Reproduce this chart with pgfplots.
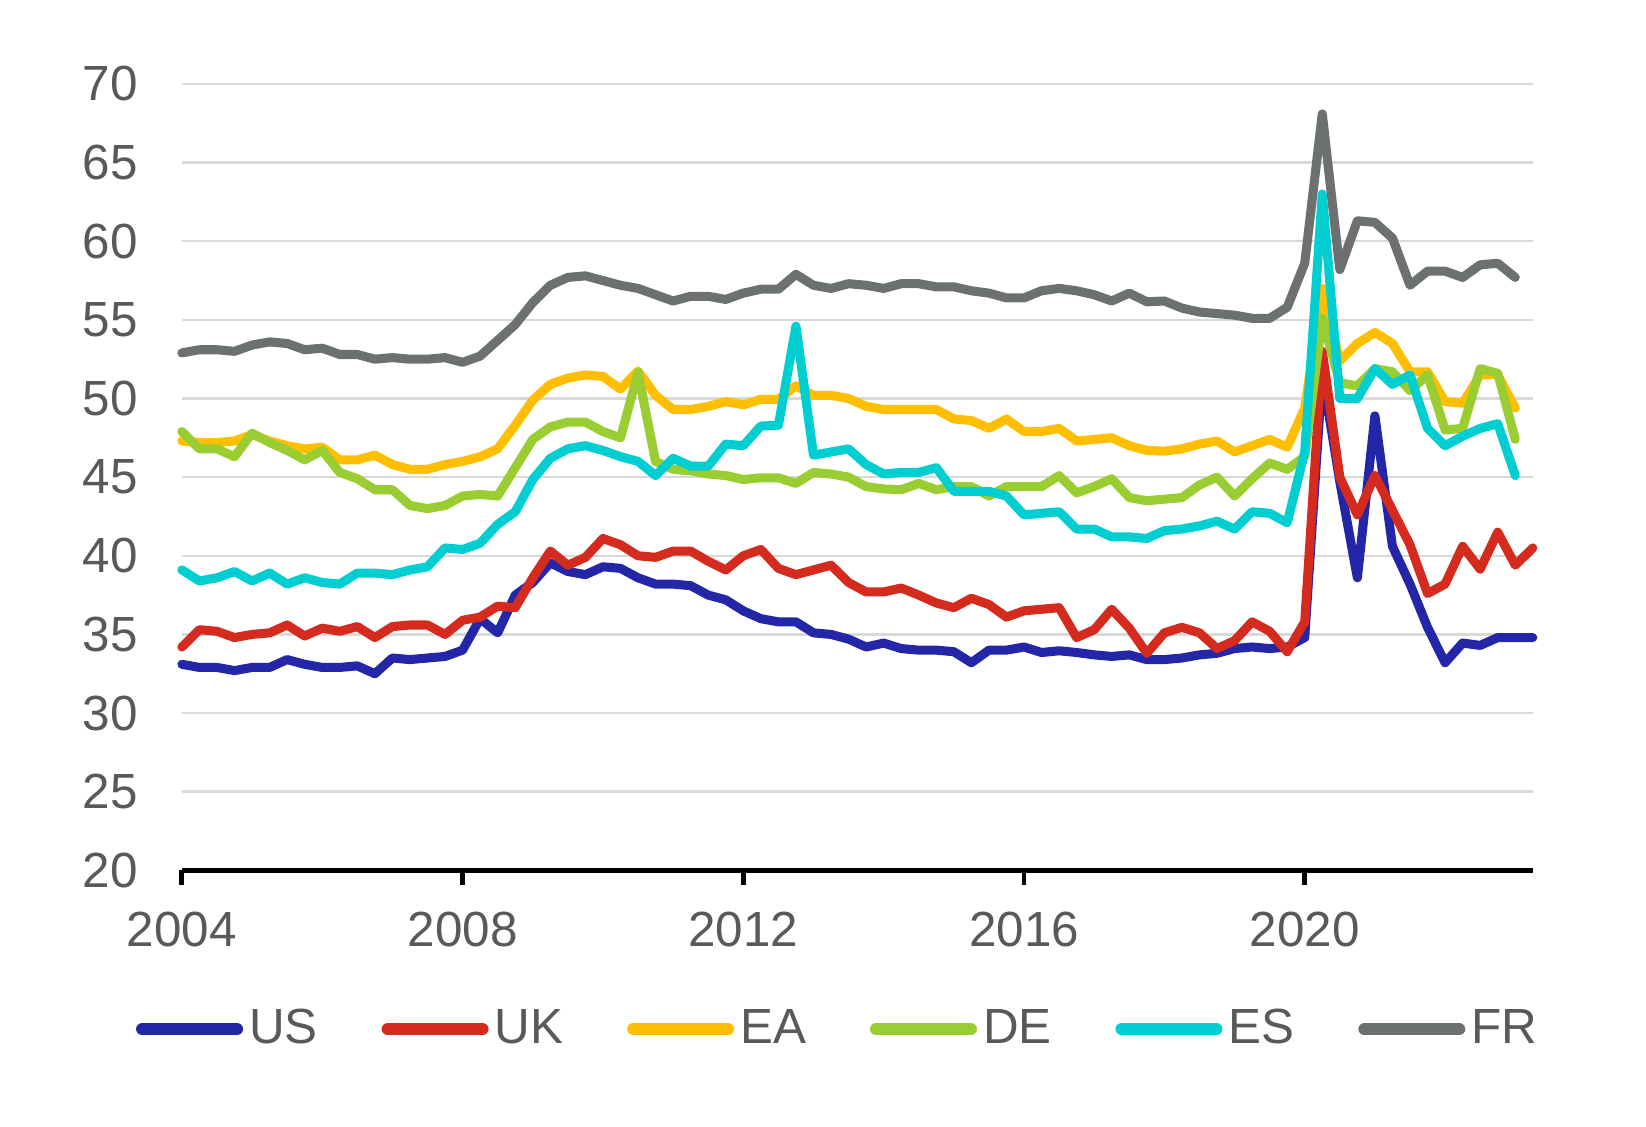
\documentclass[border=0pt]{standalone}
\usepackage{fontspec}
\setmainfont{Liberation Sans}
\usepackage{pgfplots}
\pgfplotsset{compat=1.18}
\usepackage{pgfplotstable}
\definecolor{cUS}{RGB}{36,38,168}
\definecolor{cUK}{RGB}{213,43,30}
\definecolor{cEA}{RGB}{255,190,0}
\definecolor{cDE}{RGB}{154,205,50}
\definecolor{cES}{RGB}{0,206,209}
\definecolor{cFR}{RGB}{108,112,112}
\definecolor{labelgray}{RGB}{89,89,89}
\definecolor{gridgray}{RGB}{217,217,217}
\pgfplotstableread{
k US UK EA DE ES FR
0 33.1 34.2 47.3 47.9 39.1 52.9
1 32.9 35.3 47.2 46.8 38.4 53.1
2 32.9 35.2 47.2 46.8 38.6 53.1
3 32.7 34.8 47.3 46.3 39.0 53.0
4 32.9 35.0 47.7 47.8 38.4 53.4
5 32.9 35.1 47.3 47.2 38.9 53.6
6 33.4 35.6 47.0 46.7 38.2 53.5
7 33.1 34.9 46.8 46.1 38.6 53.1
8 32.9 35.4 46.9 46.7 38.3 53.2
9 32.9 35.2 46.1 45.3 38.2 52.8
10 33.0 35.5 46.1 44.9 38.9 52.8
11 32.5 34.8 46.4 44.2 38.9 52.5
12 33.5 35.5 45.8 44.2 38.8 52.6
13 33.4 35.6 45.5 43.2 39.1 52.5
14 33.5 35.6 45.5 43.0 39.3 52.5
15 33.6 35.0 45.8 43.2 40.5 52.6
16 34.0 35.9 46.0 43.8 40.4 52.3
17 36.0 36.1 46.3 43.9 40.8 52.7
18 35.1 36.8 46.8 43.8 42.0 53.7
19 37.5 36.7 48.3 45.6 42.8 54.7
20 38.3 38.6 49.9 47.4 44.85 56.1
21 39.55 40.3 50.9 48.2 46.2 57.2
22 39.0 39.4 51.3 48.5 46.8 57.7
23 38.8 39.9 51.5 48.5 47.0 57.8
24 39.3 41.1 51.4 47.9 46.7 57.5
25 39.2 40.7 50.6 47.5 46.3 57.2
26 38.6 40.0 51.75 51.65 46.0 57.0
27 38.2 39.9 50.2 46.0 45.1 56.6
28 38.2 40.3 49.3 45.5 46.2 56.2
29 38.1 40.3 49.3 45.4 45.7 56.5
30 37.5 39.65 49.5 45.2 45.7 56.5
31 37.2 39.1 49.8 45.1 47.1 56.3
32 36.5 40.0 49.6 44.85 47.0 56.7
33 36.0 40.4 49.95 44.96 48.25 56.95
34 35.8 39.2 49.95 44.96 48.3 56.95
35 35.8 38.8 50.8 44.6 54.6 57.9
36 35.1 39.1 50.2 45.3 46.4 57.2
37 35.0 39.4 50.2 45.2 46.6 57.0
38 34.7 38.3 50.0 45.0 46.8 57.3
39 34.2 37.7 49.5 44.4 45.8 57.2
40 34.45 37.7 49.3 44.25 45.2 57.0
41 34.1 37.95 49.3 44.2 45.3 57.3
42 34.0 37.5 49.3 44.6 45.3 57.3
43 34.0 37.0 49.3 44.2 45.6 57.1
44 33.9 36.7 48.7 44.4 44.1 57.1
45 33.2 37.3 48.6 44.4 44.1 56.85
46 34.0 36.9 48.1 43.8 44.1 56.7
47 34.0 36.1 48.7 44.4 43.8 56.4
48 34.2 36.5 47.9 44.4 42.6 56.4
49 33.85 36.6 47.9 44.4 42.7 56.85
50 33.96 36.7 48.1 45.1 42.8 57.0
51 33.85 34.8 47.3 44.0 41.7 56.85
52 33.7 35.3 47.4 44.4 41.7 56.6
53 33.6 36.6 47.5 44.9 41.2 56.2
54 33.7 35.4 47.0 43.7 41.2 56.7
55 33.4 33.8 46.7 43.5 41.1 56.15
56 33.4 35.1 46.65 43.6 41.6 56.2
57 33.5 35.45 46.8 43.7 41.7 55.75
58 33.7 35.1 47.1 44.5 41.9 55.5
59 33.8 34.1 47.3 45.0 42.2 55.4
60 34.1 34.6 46.6 43.8 41.7 55.3
61 34.2 35.8 47.0 44.9 42.8 55.1
62 34.1 35.2 47.4 45.9 42.7 55.1
63 34.2 33.9 46.9 45.5 42.1 55.8
64 34.8 35.8 49.4 46.3 46.6 58.6
65 51.6 53.0 57.0 55.1 63.0 68.1
66 44.7 45.0 52.4 51.0 50.0 58.2
67 38.6 42.6 53.5 50.8 50.0 61.3
68 48.9 45.1 54.2 51.9 51.9 61.2
69 40.6 42.9 53.5 51.7 50.9 60.2
70 38.2 40.7 51.7 50.5 51.5 57.2
71 35.45 37.6 51.7 51.5 48.1 58.1
72 33.2 38.2 49.8 48.0 47.0 58.1
73 34.45 40.6 49.7 48.1 47.6 57.7
74 34.3 39.15 51.5 51.9 48.1 58.5
75 34.8 41.5 51.5 51.6 48.4 58.6
76 34.8 39.4 49.4 47.4 45.1 57.7
77 34.8 40.5 nan nan nan nan
}\datatable
\begin{document}
\begin{tikzpicture}
\begin{axis}[
  scale only axis, width=328.3pt, height=191.1pt,
  at={(0,0)}, anchor=south west,
  xmin=2004, xmax=2023.25, ymin=20, ymax=70,
  clip=false,
  axis x line*=bottom, axis y line*=left,
  y axis line style={draw=none},
  x axis line style={black, line width=1.2pt},
  ytick={20,25,...,70},
  xtick={2004,2008,2012,2016,2020},
  xticklabels={2004,2008,2012,2016,2020},
  ytick style={draw=none},
  xtick style={black, line width=1.2pt},
  tick align=outside, major tick length=3.5pt,
  ymajorgrids, grid style={gridgray, line width=0.6pt},
  tick label style={font=\fontsize{12}{14}\selectfont, text=labelgray},
  /pgf/number format/assume math mode=true,
  yticklabel style={anchor=east, inner sep=0pt, xshift=-7pt},
  xticklabel style={anchor=base, inner sep=0pt, yshift=-15pt},
  every axis plot/.append style={line width=2.2pt, line cap=round, line join=round},
  legend columns=6,
  legend image code/.code={\draw[#1, line width=3pt, line cap=round] (0pt,0pt) -- (23pt,0pt);},
  legend style={draw=none, fill=none, at={(0.487,-0.202)}, anchor=center,
    font=\fontsize{12}{14}\selectfont, text=labelgray,
    nodes={inner sep=1.5pt},
    /tikz/every even column/.append style={column sep=14pt}},
]
\addplot[cUS] table[x expr=2004+\thisrow{k}/4, y=US] {\datatable};
\addlegendentry{US}
\addplot[cUK] table[x expr=2004+\thisrow{k}/4, y=UK] {\datatable};
\addlegendentry{UK}
\addplot[cEA] table[x expr=2004+\thisrow{k}/4, y=EA] {\datatable};
\addlegendentry{EA}
\addplot[cDE] table[x expr=2004+\thisrow{k}/4, y=DE] {\datatable};
\addlegendentry{DE}
\addplot[cES] table[x expr=2004+\thisrow{k}/4, y=ES] {\datatable};
\addlegendentry{ES}
\addplot[cFR] table[x expr=2004+\thisrow{k}/4, y=FR] {\datatable};
\addlegendentry{FR}
\end{axis}
\path (-44.2pt,-62.2pt) rectangle (355.8pt,211.5pt);
\end{tikzpicture}
\end{document}
